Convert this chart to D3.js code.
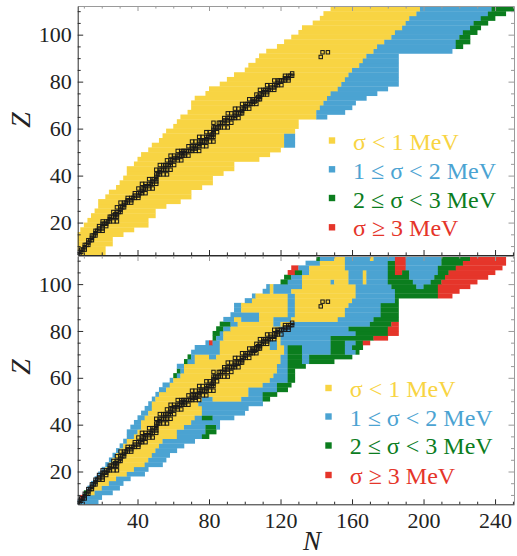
<!DOCTYPE html>
<html>
<head>
<meta charset="utf-8">
<script src="https://cdn.jsdelivr.net/npm/d3@7"></script>
<style>
  body { margin: 0; background: #fff; }
  svg { display: block; }
  text { font-family: "Liberation Serif", "Tinos", "Times New Roman", "DejaVu Serif", serif; }
</style>
</head>
<body>
<div id="chart"></div>
<script>
// Each row is one even Z; the string reads "N0 class N1 class N2 ..." (cells are 2x2, even-even)
const topRows = [
  [6, "8 Y 22"], [8, "6 Y 22"], [10, "6 Y 26"], [12, "6 Y 26"], [14, "6 Y 32"],
  [16, "8 Y 38"], [18, "10 Y 46"], [20, "12 Y 46"], [22, "14 Y 50"], [24, "16 Y 50"],
  [26, "18 Y 56"], [28, "18 Y 64"], [30, "22 Y 70"], [32, "24 Y 70"], [34, "28 Y 76"],
  [36, "30 Y 82"], [38, "32 Y 82"], [40, "34 Y 88"], [42, "34 Y 94"], [44, "38 Y 94"],
  [46, "40 Y 108"], [48, "42 Y 114"], [50, "46 Y 120"], [52, "48 Y 122 B 128"],
  [54, "52 Y 122 B 128"], [56, "54 Y 122 B 128"], [58, "56 Y 128"], [60, "60 Y 130"],
  [62, "62 Y 130"], [64, "64 Y 140 B 146"], [66, "68 Y 140 B 156"], [68, "70 Y 142 B 160"],
  [70, "70 Y 144 B 162"], [72, "72 Y 146 B 168"], [74, "78 Y 148 B 174"], [76, "80 Y 152 B 180"],
  [78, "86 Y 154 B 186"], [80, "90 Y 156 B 186"], [82, "94 Y 158 B 186"], [84, "100 Y 160 B 186"],
  [86, "102 Y 164 B 186"], [88, "106 Y 166 B 186"], [90, "108 Y 168 B 186"], [92, "112 Y 172 B 216"],
  [94, "118 Y 174 B 218 G 222"], [96, "122 Y 178 B 218 G 226"], [98, "126 Y 182 B 220 G 226"],
  [100, "130 Y 184 B 222 G 230"], [102, "132 Y 188 B 226 G 232"], [104, "138 Y 190 B 228 G 236"],
  [106, "142 Y 192 B 232 G 240"], [108, "144 Y 196 B 236 G 246"], [110, "148 Y 198 B 238 G 252"]
]

const bottomRows = [
  [6, "6 B 18"], [8, "8 R 10 B 20"], [10, "10 G 12 Y 16 B 26"], [12, "12 B 14 Y 20 B 30"],
  [14, "14 B 16 Y 24 B 32"], [16, "16 B 18 Y 28 B 36"], [18, "18 B 20 Y 34 B 44"],
  [20, "20 B 22 Y 38 B 46"], [22, "22 B 24 Y 44 B 54"], [24, "24 B 26 Y 46 B 56"],
  [26, "26 B 28 Y 48 B 58"], [28, "28 B 30 Y 50 B 62"], [30, "30 B 32 Y 52 B 66"],
  [32, "32 B 34 Y 54 B 72"], [34, "34 B 38 Y 62 B 76 G 80"], [36, "34 B 40 Y 62 B 78 G 84"],
  [38, "36 B 42 Y 66 B 78 G 84 B 86"], [40, "38 B 42 Y 70 B 86"],
  [42, "40 B 44 Y 72 B 76 G 82 B 94"], [44, "42 B 46 Y 76 B 100"], [46, "44 B 48 Y 76 B 102"],
  [48, "46 B 48 Y 74 B 110"], [50, "48 B 50 Y 76 B 82 Y 98 B 110 G 114"],
  [52, "50 B 52 Y 102 B 110 G 118"], [54, "52 B 56 Y 102 B 118 G 124"],
  [56, "54 B 58 Y 110 B 118 G 126"], [58, "58 B 60 Y 114 B 124 G 128"],
  [60, "60 G 62 B 64 Y 116 B 124 G 128"], [62, "62 G 64 B 66 Y 118 B 124 G 128"],
  [64, "62 B 66 Y 118 B 124 G 134"],
  [66, "66 G 68 B 72 Y 120 B 124 G 132 B 136 G 150"],
  [68, "68 G 70 B 72 Y 80 B 84 Y 120 B 124 G 132 B 136 G 160"],
  [70, "70 B 86 Y 122 B 124 G 132 B 148 G 156 B 162 G 164"],
  [72, "72 B 86 Y 114 B 118 Y 122 B 124 G 132 B 148 G 156 B 160 G 166"],
  [74, "78 B 80 R 82 B 86 Y 114 B 118 Y 120 B 148 G 156 B 162 G 166 R 170"],
  [76, "82 G 84 B 88 Y 120 B 148 G 172 R 180"],
  [78, "82 G 86 B 88 Y 120 B 162 G 180 R 186"],
  [80, "84 G 88 B 92 Y 120 B 158 G 180 R 186"],
  [82, "86 G 92 B 96 Y 116 B 120 Y 126 B 170 G 182 R 186"],
  [84, "88 B 94 Y 98 B 108 Y 116 B 126 Y 152 B 172 G 186"],
  [86, "92 B 108 Y 124 B 128 Y 156 B 176 G 186"],
  [88, "94 B 98 Y 124 B 128 Y 156 B 176 G 186"],
  [90, "94 B 98 Y 124 B 128 Y 158 B 176 G 186"],
  [92, "100 B 104 Y 124 B 128 Y 160 B 184 G 186"],
  [94, "104 B 106 Y 124 B 128 Y 162 B 184 G 208 R 216"],
  [96, "110 B 114 Y 116 B 126 Y 162 B 184 G 208 R 220"],
  [98, "112 B 114 Y 116 B 132 Y 162 B 182 G 196 B 200 G 208 R 226"],
  [100, "120 G 124 B 132 Y 148 B 150 Y 158 B 166 Y 168 B 180 G 194 B 204 G 210 R 230"],
  [102, "122 G 126 B 132 Y 158 B 166 Y 168 B 180 G 192 B 206 G 212 R 236"],
  [104, "124 R 128 G 132 B 136 Y 158 B 166 Y 168 B 180 G 184 R 188 G 192 B 208 G 214 R 240"],
  [106, "126 R 130 B 136 Y 156 B 180 G 184 R 190 B 208 G 218 R 244"],
  [108, "134 B 142 Y 156 B 180 G 184 R 190 B 210 G 222 R 246"],
  [110, "140 G 142 B 150 Y 156 B 170 Y 172 B 184 R 190 B 210 G 226 R 246"]
]

// Stable (and long-lived) nuclei: [Z, [N, ...]]
const stableNuclei = [
  [5, [5, 6]], [6, [6, 7]], [7, [7, 8]], [8, [8, 9, 10]], [9, [10]], [10, [10, 11, 12]],
  [11, [12]], [12, [12, 13, 14]], [13, [14]], [14, [14, 15, 16]], [15, [16]],
  [16, [16, 17, 18, 20]], [17, [18, 20]], [18, [18, 20, 22]], [19, [20, 21, 22]],
  [20, [20, 22, 23, 24, 26, 28]], [21, [24]], [22, [24, 25, 26, 27, 28]], [23, [27, 28]],
  [24, [26, 28, 29, 30]], [25, [30]], [26, [28, 30, 31, 32]], [27, [32]],
  [28, [30, 32, 33, 34, 36]], [29, [34, 36]], [30, [34, 36, 37, 38, 40]], [31, [38, 40]],
  [32, [38, 40, 41, 42, 44]], [33, [42]], [34, [40, 42, 43, 44, 46, 48]], [35, [44, 46]],
  [36, [42, 44, 46, 47, 48, 50]], [37, [48, 50]], [38, [46, 48, 49, 50]], [39, [50]],
  [40, [50, 51, 52, 54, 56]], [41, [52]], [42, [50, 52, 53, 54, 55, 56, 58]],
  [44, [52, 54, 55, 56, 57, 58, 60]], [45, [58]], [46, [56, 58, 59, 60, 62, 64]],
  [47, [60, 62]], [48, [58, 60, 62, 63, 64, 65, 66, 68]], [49, [64, 66]],
  [50, [62, 64, 65, 66, 67, 68, 69, 70, 72, 74]], [51, [70, 72]],
  [52, [68, 70, 71, 72, 73, 74, 76, 78]], [53, [74]], [54, [70, 72, 74, 75, 76, 77, 78, 80, 82]],
  [55, [78]], [56, [74, 76, 78, 79, 80, 81, 82]], [57, [81, 82]], [58, [78, 80, 82, 84]],
  [59, [82]], [60, [82, 83, 84, 85, 86, 88, 90]], [62, [82, 85, 86, 87, 88, 90, 92]],
  [63, [88, 90]], [64, [88, 90, 91, 92, 93, 94, 96]], [65, [94]],
  [66, [90, 92, 94, 95, 96, 97, 98]], [67, [98]], [68, [94, 96, 98, 99, 100, 102]], [69, [100]],
  [70, [98, 100, 101, 102, 103, 104, 106]], [71, [104, 105]],
  [72, [102, 104, 105, 106, 107, 108]], [73, [107, 108]], [74, [106, 108, 109, 110, 112]],
  [75, [110, 112]], [76, [108, 110, 111, 112, 113, 114, 116]], [77, [114, 116]],
  [78, [112, 114, 116, 117, 118, 120]], [79, [118]], [80, [116, 118, 119, 120, 121, 122, 124]],
  [81, [122, 124]], [82, [122, 124, 125, 126]], [83, [126]], [90, [142]], [92, [143, 146]]
]

const classKeys = ["Y", "B", "G", "R"]
const classColors = ["#F8D443", "#4BA3D2", "#0B7D1E", "#E5352A"]
const legendLabels = ["σ < 1 MeV", "1 ≤ σ < 2 MeV", "2 ≤ σ < 3 MeV", "σ ≥ 3 MeV"]
const xMajorTicks = [40, 80, 120, 160, 200, 240]
const yMajorTicks = [20, 40, 60, 80, 100]

const W = 517, H = 556
const SERIF = '"Liberation Serif", "Tinos", "Times New Roman", "DejaVu Serif", serif'
const color = d3.scaleOrdinal().domain(classKeys).range(classColors)

const svg = d3.select('#chart').append('svg')
  .attr('width', W)
  .attr('height', H)

const x = d3.scaleLinear().domain([6.55, 250.6]).range([77.7, 514])

const panels = [
  {
    rows: topRows,
    y: d3.scaleLinear().domain([6.2, 112.2]).range([255, 6]),
    legend: { mx: 332, tx: 353, my: [140.5, 169.3, 198, 227.3], ty: [150, 179, 207.5, 236] },
    zLabelY: 120,
    xLabels: false
  },
  {
    rows: bottomRows,
    y: d3.scaleLinear().domain([6, 112]).range([504.3, 256]),
    legend: { mx: 328.5, tx: 349.7, my: [388, 416.5, 445.5, 475], ty: [397, 425.5, 454, 483.5] },
    zLabelY: 367,
    xLabels: true
  }
]

function parseRow([z, str]) {
  const tok = str.trim().split(/\s+/)
  const segs = []
  for (let i = 1; i < tok.length; i += 2) {
    segs.push({ z, n0: +tok[i - 1], n1: +tok[i + 1], cls: tok[i] })
  }
  return segs
}

panels.forEach((p, pi) => {
  const y = p.y
  const [x0, x1] = x.range()
  const [yb, yt] = y.range()

  svg.append('clipPath').attr('id', 'clip' + pi)
    .append('rect')
    .attr('x', x0).attr('y', yt)
    .attr('width', x1 - x0).attr('height', yb - yt)

  const plot = svg.append('g').attr('clip-path', `url(#clip${pi})`)

  // nuclear chart cells
  const segs = p.rows.flatMap(parseRow)
  plot.append('g')
    .selectAll('rect')
    .data(segs)
    .enter()
    .append('rect')
    .attr('x', d => x(d.n0))
    .attr('y', d => y(d.z + 2))
    .attr('width', d => x(d.n1) - x(d.n0) + 0.3)
    .attr('height', d => y(d.z) - y(d.z + 2) + 0.3)
    .style('fill', d => color(d.cls))

  // stable nuclei as small open squares
  const stable = stableNuclei.flatMap(([z, ns]) => ns.map(n => ({ n, z })))
  plot.append('g')
    .selectAll('rect')
    .data(stable)
    .enter()
    .append('rect')
    .attr('x', d => x(d.n + 0.5) - 1.7)
    .attr('y', d => y(d.z + 0.5) - 1.7)
    .attr('width', 3.4)
    .attr('height', 3.4)
    .style('fill', 'none')
    .style('stroke', '#1a1a1a')
    .style('stroke-width', 1.05)

  // frame with inward ticks, Mathematica style
  const xMinor = d3.range(10, 251, 10).filter(v => v % 40)
  const yMinor = d3.range(10, 111, 5).filter(v => v % 20)

  const addAxis = (axis, tr, col, labels) => {
    const g = svg.append('g')
      .attr('transform', tr)
      .attr('color', col)
      .call(axis)
    g.selectAll('text')
      .style('fill', '#222')
      .style('font-size', '22px')
      .style('font-family', SERIF)
    if (!labels) g.selectAll('text').remove()
    return g
  }
  const minor = (axis, tr, col) => {
    const g = svg.append('g').attr('transform', tr).attr('color', col).call(axis)
    g.select('.domain').remove()
    g.selectAll('text').remove()
  }

  const dark = '#2a2a2a', grey = '#9a9a9a'

  addAxis(d3.axisBottom(x).tickValues(xMajorTicks).tickSizeInner(-5).tickSizeOuter(0)
    .tickPadding(8).tickFormat(d3.format('d')), `translate(0,${yb})`, dark, p.xLabels)
  minor(d3.axisBottom(x).tickValues(xMinor).tickSize(-2.6), `translate(0,${yb})`, dark)

  addAxis(d3.axisTop(x).tickValues(xMajorTicks).tickSizeInner(-5).tickSizeOuter(0),
    `translate(0,${yt})`, grey, false)
  minor(d3.axisTop(x).tickValues(xMinor).tickSize(-2.6), `translate(0,${yt})`, grey)

  addAxis(d3.axisLeft(y).tickValues(yMajorTicks).tickSizeInner(-5.5).tickSizeOuter(0)
    .tickPadding(6).tickFormat(d3.format('d')), `translate(${x0},0)`, dark, true)
  minor(d3.axisLeft(y).tickValues(yMinor).tickSize(-3), `translate(${x0},0)`, dark)

  addAxis(d3.axisRight(y).tickValues(yMajorTicks).tickSizeInner(-5.5).tickSizeOuter(0),
    `translate(${x1},0)`, grey, false)
  minor(d3.axisRight(y).tickValues(yMinor).tickSize(-3), `translate(${x1},0)`, grey)

  // Z axis label
  svg.append('text')
    .attr('transform', `translate(30,${p.zLabelY}) rotate(-90)`)
    .attr('text-anchor', 'middle')
    .style('font-family', SERIF)
    .style('font-style', 'italic')
    .style('font-size', '28px')
    .style('fill', '#222')
    .text('Z')

  // legend
  const lg = svg.append('g')
  classKeys.forEach((k, i) => {
    lg.append('rect')
      .attr('x', p.legend.mx - 3.2)
      .attr('y', p.legend.my[i] - 3.2)
      .attr('width', 6.4)
      .attr('height', 6.4)
      .style('fill', color(k))
    lg.append('text')
      .attr('x', p.legend.tx)
      .attr('y', p.legend.ty[i])
      .style('font-family', SERIF)
      .style('font-size', '24px')
      .style('fill', color(k))
      .text(legendLabels[i])
  })
})

svg.append('text')
  .attr('x', 312)
  .attr('y', 550)
  .attr('text-anchor', 'middle')
  .style('font-family', SERIF)
  .style('font-style', 'italic')
  .style('font-size', '27px')
  .style('fill', '#222')
  .text('N')
</script>
</body>
</html>
